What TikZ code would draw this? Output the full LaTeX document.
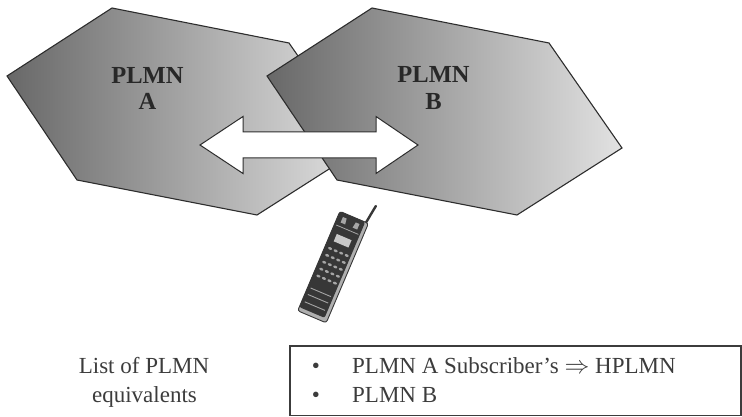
\documentclass[tikz,border=0pt]{standalone}
\usepackage{fontspec}
\setmainfont{Liberation Serif}
\definecolor{netdark}{RGB}{104,104,104}
\definecolor{netlight}{RGB}{226,226,226}
\definecolor{netedge}{RGB}{45,45,45}
\definecolor{labelink}{RGB}{40,40,40}
\definecolor{listink}{RGB}{60,60,60}
\definecolor{phonebody}{RGB}{55,55,55}
\definecolor{phoneside}{RGB}{175,175,175}
\definecolor{phonekey}{RGB}{165,165,165}
\definecolor{phonescreen}{RGB}{200,200,200}
\begin{document}
\begin{tikzpicture}[x=1pt,y=1pt,
  net/.style={draw=netedge, line width=1.1pt, line join=miter,
              left color=netdark, right color=netlight},
  netlabel/.style={font=\fontsize{24.5}{26}\selectfont\bfseries, text=labelink,
                   inner sep=0pt, anchor=base},
  link/.style={draw=netedge, fill=white, line width=1pt, line join=miter},
  listtext/.style={font=\fontsize{23}{28}\selectfont, text=listink,
                   inner sep=0pt, anchor=base},
  listbox/.style={draw=listink, line width=1.2pt},
]
\useasboundingbox (0,0) rectangle (742,-417);

% the two overlapping networks
\draw[net] (7,-76) -- (112,-8) -- (289,-43) -- (362,-148) -- (257,-215) -- (77,-180) -- cycle;
\draw[net] (267,-76) -- (372,-8) -- (549,-43) -- (622,-148) -- (517,-215) -- (337,-180) -- cycle;

\node[netlabel] (pa1) at (147.5,-84) {PLMN};
\node[netlabel] (pa2) at (147.5,-110) {A};
\node[netlabel] (pb1) at (433.5,-83) {PLMN};
\node[netlabel] (pb2) at (433.5,-110) {B};

% double-headed block arrow between the networks
\draw[link] (200,-145) -- (243,-116.5) -- (243,-132) -- (376,-132) -- (376,-116.5)
  -- (418,-145) -- (376,-173.5) -- (376,-158) -- (243,-158) -- (243,-173.5) -- cycle;

% mobile handset
\begin{scope}[shift={(333,-266)}, rotate=-23]
  \draw[phonebody, line width=2.4pt, line cap=round] (13,50) -- (16,72);
  \filldraw[draw=phonebody, fill=phoneside, line width=0.9pt, rounded corners=2.5pt]
    (-15,-55) rectangle (16,53);
  \fill[phonebody, rounded corners=2pt] (-15,-51) rectangle (12.5,53);
  % earpiece cap
  \fill[phonekey] (-10,43) -- (-5,43) -- (-6,49) -- (-10,49) -- cycle;
  \fill[phonekey] (3,43) -- (8,43) -- (8,49) -- (4,49) -- cycle;
  \draw[phonekey, line width=0.8pt] (-13,39) -- (11,39);
  % display
  \fill[phonescreen] (-9,23) rectangle (7,31);
  % keypad
  \foreach \r in {0,...,4}
    \foreach \c in {0,...,3}
      \fill[phonekey] (-9.5+\c*6,15-\r*7.5) ellipse (2.1 and 1.3);
  % speaker slits
  \draw[phonekey, line width=0.9pt] (-12,-29) -- (10,-29);
  \draw[phonekey, line width=0.9pt] (-12,-36) -- (10,-36);
  \draw[phonekey, line width=0.9pt] (-12,-44) -- (10,-44);
\end{scope}

% list of equivalent networks
\node[listtext] (eq1) at (144,-373) {List of PLMN};
\node[listtext] (eq2) at (144.5,-402) {equivalents};
\draw[listbox] (290,-346) rectangle (741,-415.5);
\node[listtext] (bu1) at (316,-373) {\textbullet};
\node[listtext] (bu2) at (316,-402) {\textbullet};
\node[listtext, anchor=base west] (it1) at (352,-373) {PLMN A Subscriber’s $\Rightarrow$ HPLMN};
\node[listtext, anchor=base west] (it2) at (352,-402) {PLMN B};
\end{tikzpicture}
\end{document}
